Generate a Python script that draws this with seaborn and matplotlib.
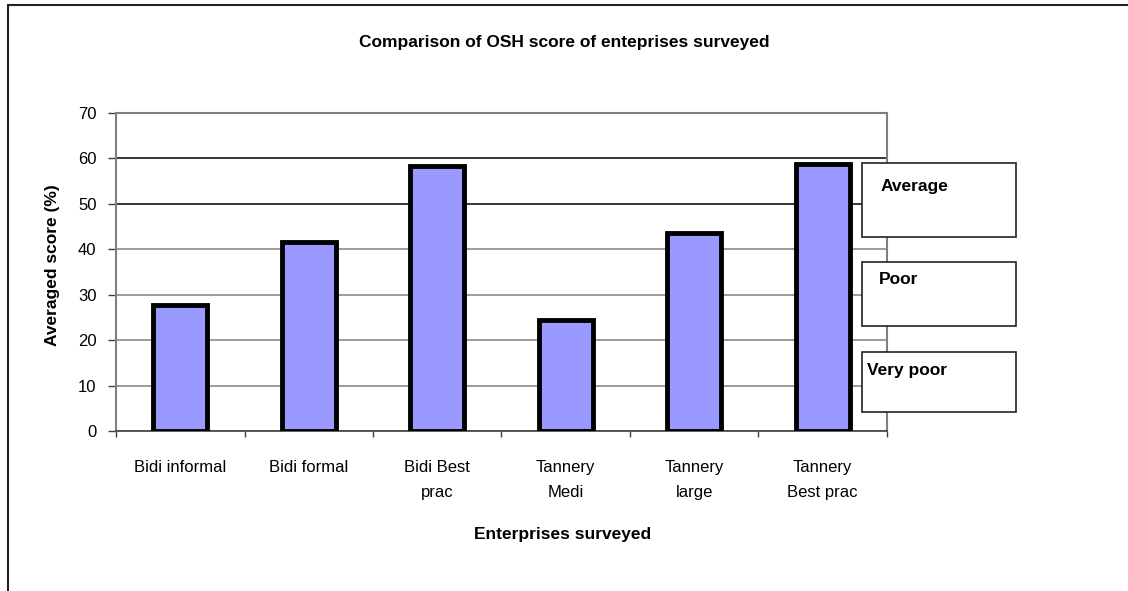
import matplotlib
matplotlib.use("Agg")
import matplotlib.pyplot as plt
import seaborn as sns
import pandas as pd
from matplotlib.patches import Rectangle
from matplotlib.lines import Line2D

categories = ["Bidi informal", "Bidi formal", "Bidi Best\nprac", "Tannery\nMedi",
              "Tannery\nlarge", "Tannery\nBest prac"]
scores = [27.8, 41.5, 58.3, 24.5, 43.5, 58.7]
yticks = [0, 10, 20, 30, 40, 50, 60, 70]
box_labels = ["Average", "Poor", "Very poor"]

sns.set_theme(style="white")
plt.rcParams['font.family'] = ['Liberation Sans', 'DejaVu Sans']
plt.rcParams['text.color'] = 'black'
plt.rcParams['axes.labelcolor'] = 'black'
plt.rcParams['xtick.color'] = 'black'
plt.rcParams['ytick.color'] = 'black'

W, H = 1128, 591
fig = plt.figure(figsize=(W / 100, H / 100), dpi=100)
ax = fig.add_axes([116 / W, 1 - 431 / H, (887 - 116) / W, (431 - 113) / H])

df = pd.DataFrame({"cat": categories, "score": scores})
sns.barplot(data=df, x="cat", y="score", ax=ax, color="#9999FF", saturation=1,
            width=0.42, edgecolor="black", linewidth=3.5, zorder=3)

ax.set_xlim(-0.5, 5.5)
ax.set_ylim(0, 70)
ax.set_yticks(yticks)
ax.set_yticklabels([str(t) for t in yticks], fontsize=12)
ax.yaxis.grid(True, color="#808080", linewidth=1.1, zorder=0)
for val, gl in zip(yticks, ax.get_ygridlines()):
    if val in (50, 60):
        gl.set_color("black")
ax.set_axisbelow(True)

ax.set_xticks(range(len(categories)))
ax.set_xticklabels(categories, fontsize=12, linespacing=1.85)
ax.tick_params(axis="x", which="major", length=0, pad=21)
ax.set_xticks([i - 0.5 for i in range(len(categories) + 1)], minor=True)
ax.tick_params(axis="x", which="minor", length=4.5, width=1, color="#404040",
               direction="out", bottom=True)
ax.tick_params(axis="y", which="major", length=5.5, width=1, color="#404040",
               direction="out", left=True, pad=8.5)

for s in ["top", "right", "left"]:
    ax.spines[s].set_visible(True)
    ax.spines[s].set_color("#808080")
    ax.spines[s].set_linewidth(1.5)
ax.spines["bottom"].set_color("#404040")
ax.spines["bottom"].set_linewidth(1.2)

ax.set_xlabel("Enterprises surveyed", fontsize=12.5, fontweight="bold")
ax.xaxis.set_label_coords((563 - 116) / (887 - 116), -(534 - 431) / (431 - 113))
ax.xaxis.label.set_va("center")
ax.set_ylabel("Averaged score (%)", fontsize=12.5, fontweight="bold")
ax.yaxis.set_label_coords(-(116 - 52) / (887 - 116), (431 - 265) / (431 - 113))
ax.yaxis.label.set_va("center")

fig.text(564 / W, 1 - 42 / H, "Comparison of OSH score of enteprises surveyed",
         ha="center", va="center", fontsize=12.5, fontweight="bold")

# outer frame lines
fig.add_artist(Line2D([8 / W, 8 / W], [0, 1 - 5 / H], transform=fig.transFigure,
                      color="#222222", linewidth=1.5))
fig.add_artist(Line2D([8 / W, 1], [1 - 5 / H, 1 - 5 / H], transform=fig.transFigure,
                      color="#222222", linewidth=1.5))

# rating boxes
boxes = [(163, 237, 881, 186), (262, 326, 879, 280), (352, 412, 867, 371)]
for (y0, y1, tx, ty), lab in zip(boxes, box_labels):
    fig.add_artist(Rectangle((862 / W, 1 - y1 / H), (1016 - 862) / W, (y1 - y0) / H,
                             transform=fig.transFigure, facecolor="white",
                             edgecolor="#222222", linewidth=1.2, zorder=10))
    fig.text(tx / W, 1 - ty / H, lab, ha="left", va="center", fontsize=12.5,
             fontweight="bold", zorder=11)

fig.savefig("out.png", dpi=100, facecolor="white")
